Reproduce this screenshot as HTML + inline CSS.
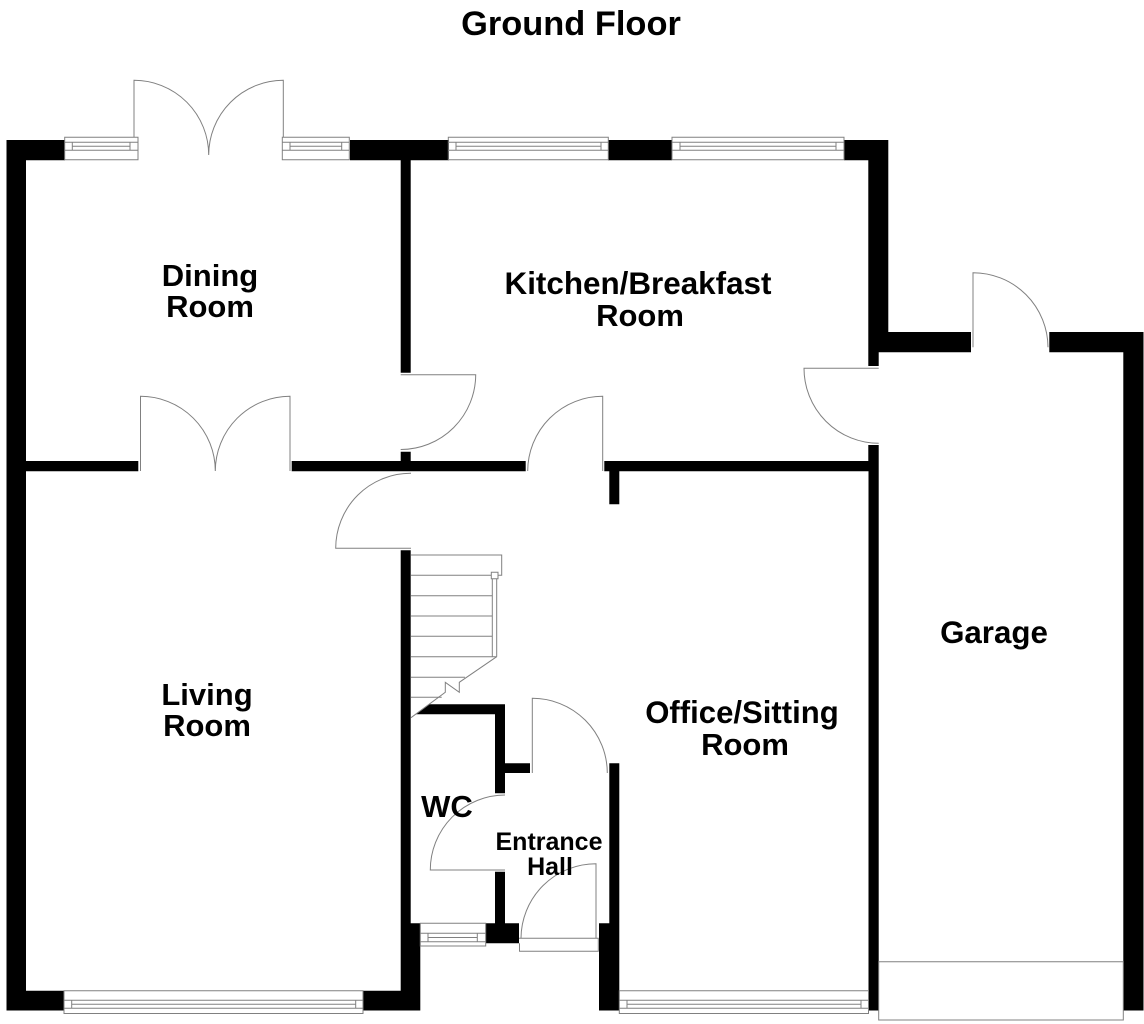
<!DOCTYPE html>
<html><head><meta charset="utf-8"><title>Ground Floor</title>
<style>html,body{margin:0;padding:0;background:#fff}svg{display:block}
text{font-family:"Liberation Sans",sans-serif;font-weight:bold;fill:#000;text-anchor:middle}
.l{fill:none;stroke:#808080;stroke-width:1}</style></head><body>
<svg width="1144" height="1024" viewBox="0 0 1144 1024" xmlns="http://www.w3.org/2000/svg">
<rect width="1144" height="1024" fill="#fff"/>
<path fill="#000" d="
M6.5 140H65V160.3H26V461H138.3V471.3H26V990.7H64V1010.5H6.5Z
M350 140H449V160.3H410.7V372.7H400.7V160.3H350Z
M608 140H672V160.3H608Z
M844 140H888.3V332H971V352.3H878.7V366H868.3V160.3H844Z
M1049.3 332H1143.5V1010.5H1123.3V352.3H1049.3Z
M291.7 461H400.7V451.7H410.7V461H525.7V471.3H291.7Z
M604.3 461H868.3V445H878.7V1010.5H868.5V471.3H619.3V504.3H609.3V471.3H604.3Z
M400.7 550.3H410.7V923.3H420.3V1010.5H363V990.7H400.7Z
M416 714.3L429 704.3H505V763.3H530V773H505V793.3H495V714.3Z
M495 871.7H505V923.3H519V943.3H485.7V923.3H495Z
M609.3 763.3H619.3V1010.5H599V923.3H609.3Z"/>
<g class="l">
<!-- windows -->
<path d="M64.7 137.3H138V159.7H64.7ZM64.7 142.3H138M64.7 150.3H138M72.3 142.3V150.3M130 142.3V150.3M72.3 146.3H130"/>
<path d="M282.3 137.3H349.3V159.7H282.3ZM282.3 142.3H349.3M282.3 150.3H349.3M290 142.3V150.3M341.7 142.3V150.3M290 146.3H341.7"/>
<path d="M448.3 137.3H608.3V159.7H448.3ZM448.3 142.3H608.3M448.3 150.3H608.3M456 142.3V150.3M601 142.3V150.3M456 146.3H601"/>
<path d="M672 137.3H844V159.7H672ZM672 142.3H844M672 150.3H844M680 142.3V150.3M836 142.3V150.3M680 146.3H836"/>
<path d="M64 990.7H363V1013.5H64ZM64 1000.3H363M64 1008.3H363M71.7 1000.3V1008.3M355.7 1000.3V1008.3M71.7 1004.3H355.7"/>
<path d="M619.3 990.7H868.5V1013.5H619.3ZM619.3 1000.3H868.5M619.3 1008.3H868.5M627 1000.3V1008.3M861 1000.3V1008.3M627 1004.3H861"/>
<path d="M420.3 923.3H485.7V946H420.3ZM420.3 933.3H485.7M420.3 941.7H485.7M428 933.3V941.7M477.3 933.3V941.7M428 937.5H477.3"/>
<!-- french doors -->
<path d="M134 137V80.3A74.7 74.7 0 0 1 208.7 155A74.7 74.7 0 0 1 283.3 80.3V137"/>
<path d="M140.5 471V396.3A74.8 74.8 0 0 1 215.3 471A74.8 74.8 0 0 1 290 396.3V471"/>
<!-- doors -->
<path d="M400.7 374.7H475.7A75 75 0 0 1 400.7 449.5"/>
<path d="M411 473.3A75 75 0 0 0 335.7 548.3H411"/>
<path d="M602.7 471V396.3A75 75 0 0 0 527.7 471"/>
<path d="M973 347.3V272.7A75 75 0 0 1 1048 347.3"/>
<path d="M878.7 368.3H804A75 75 0 0 0 878.7 443.3"/>
<path d="M532.3 773V698.3A75 75 0 0 1 607.3 773"/>
<path d="M505 795A75 75 0 0 0 430.3 870H505"/>
<path d="M596 938.3V863.7A75 75 0 0 0 521 938.3"/>
<path d="M519 938.3H598.3V951.3H519.5V943.3M598.3 938.3V943"/>
<!-- stairs -->
<path d="M411 555H501.7V575.3H411M411 595.7H492.3M411 616H492.3M411 636.3H492.3M411 656.7H496.7M411 677.3H465M411 697.3H441.7"/>
<path d="M492.3 578.7V656.7M496.7 578.7V656.7"/>
<path d="M491.3 572.3H498V578.7H491.3Z" fill="#fff"/>
<path d="M496.7 656.7L459.3 682.3V692.3L445.3 682.3V692.3L411 717.7"/>
<!-- garage door -->
<path d="M878.7 961.7H1123.3V1020H878.7Z"/>
</g>
<text x="571" y="35" font-size="34.4">Ground Floor</text>
<text x="210" y="286" font-size="31">Dining</text>
<text x="210" y="317" font-size="31">Room</text>
<text x="638" y="294" font-size="31.4">Kitchen/Breakfast</text>
<text x="640" y="326" font-size="31">Room</text>
<text x="207" y="705" font-size="31">Living</text>
<text x="207" y="736" font-size="31">Room</text>
<text x="742" y="723" font-size="31.1">Office/Sitting</text>
<text x="745" y="755" font-size="31">Room</text>
<text x="994" y="643" font-size="31.3">Garage</text>
<text x="447" y="817" font-size="31">WC</text>
<text x="549" y="850" font-size="25">Entrance</text>
<text x="550" y="875" font-size="25">Hall</text>
</svg>
</body></html>
